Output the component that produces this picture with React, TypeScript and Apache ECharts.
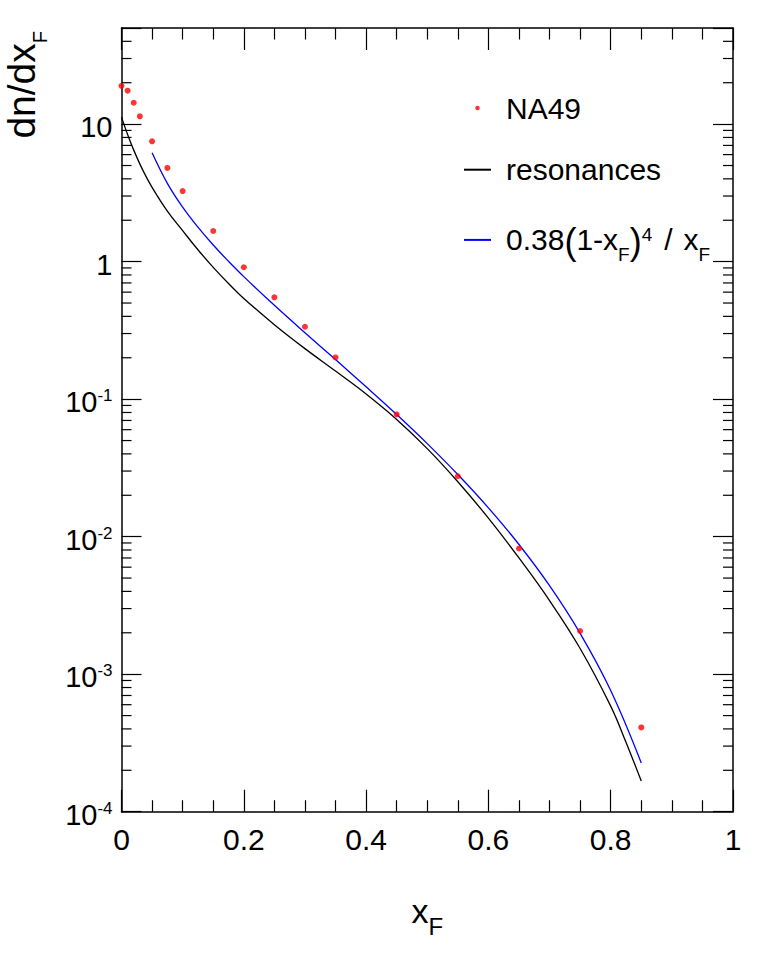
import React, { useEffect, useRef } from 'react';
import * as echarts from 'echarts';

const FONT = '"Liberation Sans", Arial, Helvetica, sans-serif';

// NA49 data points
const NA49_X = [0, 0.01, 0.02, 0.03, 0.05, 0.075, 0.1, 0.15, 0.2, 0.25, 0.3, 0.35, 0.45, 0.55, 0.65, 0.75, 0.85];
const NA49_Y = [19.0, 17.5, 14.3, 11.4, 7.5, 4.8, 3.26, 1.67, 0.91, 0.55, 0.336, 0.201, 0.0774, 0.0275, 0.0082, 0.00206, 0.00041];

// resonances curve (black)
const RES_X = [0, 0.01, 0.02, 0.035, 0.05, 0.075, 0.1, 0.125, 0.15, 0.175, 0.2, 0.25, 0.3, 0.35, 0.4, 0.45, 0.5, 0.55, 0.6, 0.65, 0.7, 0.75, 0.8, 0.825, 0.85];
const RES_Y = [11.24, 8.4, 6.47, 4.61, 3.47, 2.33, 1.68, 1.22, 0.909, 0.694, 0.54, 0.348, 0.233, 0.16, 0.109, 0.0712, 0.0437, 0.0251, 0.01365, 0.007, 0.00343, 0.001538, 0.000586, 0.00032, 0.000167];

// 0.38(1-xF)^4/xF curve (blue)
const FIT_X = [0.05, 0.075, 0.1, 0.125, 0.15, 0.175, 0.2, 0.25, 0.3, 0.35, 0.4, 0.45, 0.5, 0.55, 0.6, 0.65, 0.7, 0.75, 0.8, 0.85];
const FIT_Y = [6.19, 3.71, 2.49, 1.78, 1.32, 1.006, 0.778, 0.481, 0.304, 0.194, 0.123, 0.0773, 0.0475, 0.0283, 0.0162, 0.00877, 0.0044, 0.00198, 0.00076, 0.000226];

// minor ticks of the log axis
const Y_MINOR_TICKS = [
  0.0002, 0.0003, 0.0004, 0.0005, 0.0006, 0.0007, 0.0008, 0.0009,
  0.002, 0.003, 0.004, 0.005, 0.006, 0.007, 0.008, 0.009,
  0.02, 0.03, 0.04, 0.05, 0.06, 0.07, 0.08, 0.09,
  0.2, 0.3, 0.4, 0.5, 0.6, 0.7, 0.8, 0.9,
  2, 3, 4, 5, 6, 7, 8, 9,
  20, 30, 40,
];

const Y_MIN = 0.0001;
const Y_MAX = 50;

const LEGEND_LABELS: Record<string, string> = {
  NA49: '{a|NA49}',
  resonances: '{a|resonances}',
  fit: '{a|0.38}{p|(}{m|1-x}{sb|F}{p|)}{sp|4}{sl|/}{m|x}{sb|F}',
};

const zip = (xs: number[], ys: number[]) => xs.map((x, i) => [x, ys[i]]);

const yLabel = (v: number) => {
  const e = Math.log10(v);
  const r = Math.round(e);
  if (Math.abs(e - r) > 1e-6) return '';
  if (r === 0) return '{b|1}';
  if (r === 1) return '{b|10}';
  return '{b|10}{s|' + r + '}';
};

export default function App() {
  const ref = useRef<HTMLDivElement>(null);
  useEffect(() => {
    const chart = echarts.init(ref.current!, null, { renderer: 'svg' });
    const axisLine = { show: true, onZero: false, lineStyle: { color: '#000', width: 1.5 } };
    const xCommon = {
      type: 'value',
      min: 0,
      max: 1,
      interval: 0.2,
      axisLine,
      splitLine: { show: false },
      axisTick: { show: true, inside: true, length: 22, lineStyle: { color: '#000', width: 1.2 } },
      minorTick: { show: true, splitNumber: 4, length: 11.5, lineStyle: { color: '#000', width: 1.2 } },
      minorSplitLine: { show: false },
    };
    const yCommon = {
      type: 'log',
      logBase: 10,
      min: Y_MIN,
      max: Y_MAX,
      axisLine,
      splitLine: { show: false },
      axisTick: { show: true, inside: true, length: 20, lineStyle: { color: '#000', width: 1.2 } },
    };
    const option: any = {
      animation: false,
      backgroundColor: '#fff',
      grid: { left: 121.5, right: 30, top: 28, bottom: 143.3, containLabel: false },
      xAxis: [
        {
          ...xCommon,
          position: 'bottom',
          axisLabel: {
            show: true,
            margin: 13,
            color: '#000',
            fontFamily: FONT,
            fontSize: 30,
            lineHeight: 30,
          },
          name: '{x|x}{f|F}',
          nameLocation: 'middle',
          nameGap: 79.5,
          nameTextStyle: {
            color: '#000',
            fontFamily: FONT,
            rich: {
              x: { fontFamily: FONT, fontSize: 34, lineHeight: 40, color: '#000' },
              f: { fontFamily: FONT, fontSize: 24, lineHeight: 40, color: '#000', padding: [31, 0, 0, 0] },
            },
          },
        },
        { ...xCommon, position: 'top', axisLabel: { show: false } },
      ],
      yAxis: [
        {
          ...yCommon,
          position: 'left',
          axisLabel: {
            show: true,
            margin: 9,
            formatter: yLabel,
            color: '#000',
            fontFamily: FONT,
            rich: {
              b: { fontFamily: FONT, fontSize: 29, lineHeight: 30, color: '#000', padding: [6, 0, 0, 0] },
              s: { fontFamily: FONT, fontSize: 17, lineHeight: 30, color: '#000', padding: [0, 0, 7, 0] },
            },
          },
        },
        { ...yCommon, position: 'right', axisLabel: { show: false } },
      ],
      legend: {
        orient: 'vertical',
        left: 463,
        top: 92,
        padding: 0,
        itemWidth: 27,
        itemHeight: 4.5,
        itemGap: 29.7,
        selectedMode: false,
        data: [
          { name: 'NA49' },
          { name: 'resonances', itemStyle: { opacity: 0 } },
          { name: 'fit', itemStyle: { opacity: 0 } },
        ],
        formatter: (n: string) => LEGEND_LABELS[n],
        textStyle: {
          color: '#000',
          fontFamily: FONT,
          fontSize: 30,
          lineHeight: 32,
          rich: {
            a: { fontFamily: FONT, fontSize: 30, lineHeight: 32, color: '#000', padding: [0, 0, 0, 10] },
            m: { fontFamily: FONT, fontSize: 30, lineHeight: 32, color: '#000' },
            p: { fontFamily: FONT, fontSize: 36, lineHeight: 32, color: '#000', padding: [4, 0, 0, 0] },
            sb: { fontFamily: FONT, fontSize: 19, lineHeight: 32, color: '#000', padding: [30, 0, 0, 0] },
            sp: { fontFamily: FONT, fontSize: 19, lineHeight: 32, color: '#000', padding: [0, 0, 11, 0] },
            sl: { fontFamily: FONT, fontSize: 30, lineHeight: 32, color: '#000', padding: [0, 11, 0, 12] },
          },
        },
      },
      graphic: [
        {
          type: 'text',
          x: 21.5,
          y: 31,
          rotation: Math.PI / 2,
          style: {
            text: '{b|dn/dx}{s|F}',
            align: 'right',
            verticalAlign: 'middle',
            fill: '#000',
            rich: {
              b: { fontFamily: FONT, fontSize: 39, lineHeight: 44, fill: '#000' },
              s: { fontFamily: FONT, fontSize: 20, lineHeight: 44, fill: '#000', padding: [37, 0, 0, 0] },
            },
          },
        },
      ],
      series: [
        {
          name: 'minorTicks',
          type: 'custom',
          silent: true,
          xAxisIndex: 0,
          yAxisIndex: 0,
          clip: false,
          data: Y_MINOR_TICKS.map((v) => [0, v]),
          renderItem: (params: any, api: any) => {
            const p = api.coord([0, api.value(1)]);
            const cs = params.coordSys;
            const st = { stroke: '#000', lineWidth: 1.2 };
            return {
              type: 'group',
              children: [
                { type: 'line', shape: { x1: cs.x, y1: p[1], x2: cs.x + 10, y2: p[1] }, style: st },
                { type: 'line', shape: { x1: cs.x + cs.width - 10, y1: p[1], x2: cs.x + cs.width, y2: p[1] }, style: st },
              ],
            };
          },
        },
        {
          name: 'resonances',
          type: 'line',
          data: zip(RES_X, RES_Y),
          smooth: 0.4,
          symbol: 'none',
          showSymbol: false,
          lineStyle: { color: '#000', width: 1.3 },
          itemStyle: { color: '#000' },
          z: 3,
        },
        {
          name: 'fit',
          type: 'line',
          data: zip(FIT_X, FIT_Y),
          smooth: 0.4,
          symbol: 'none',
          showSymbol: false,
          lineStyle: { color: '#0000ff', width: 1.3 },
          itemStyle: { color: '#0000ff' },
          z: 3,
        },
        {
          name: 'NA49',
          type: 'scatter',
          data: zip(NA49_X, NA49_Y),
          symbol: 'circle',
          symbolSize: 6,
          itemStyle: { color: '#ff0000' },
          z: 4,
        },
      ],
    };
    chart.setOption(option);
    return () => chart.dispose();
  }, []);
  return <div ref={ref} style={{ position: 'absolute', left: 0, top: 0, width: 763, height: 955 }} />;
}
